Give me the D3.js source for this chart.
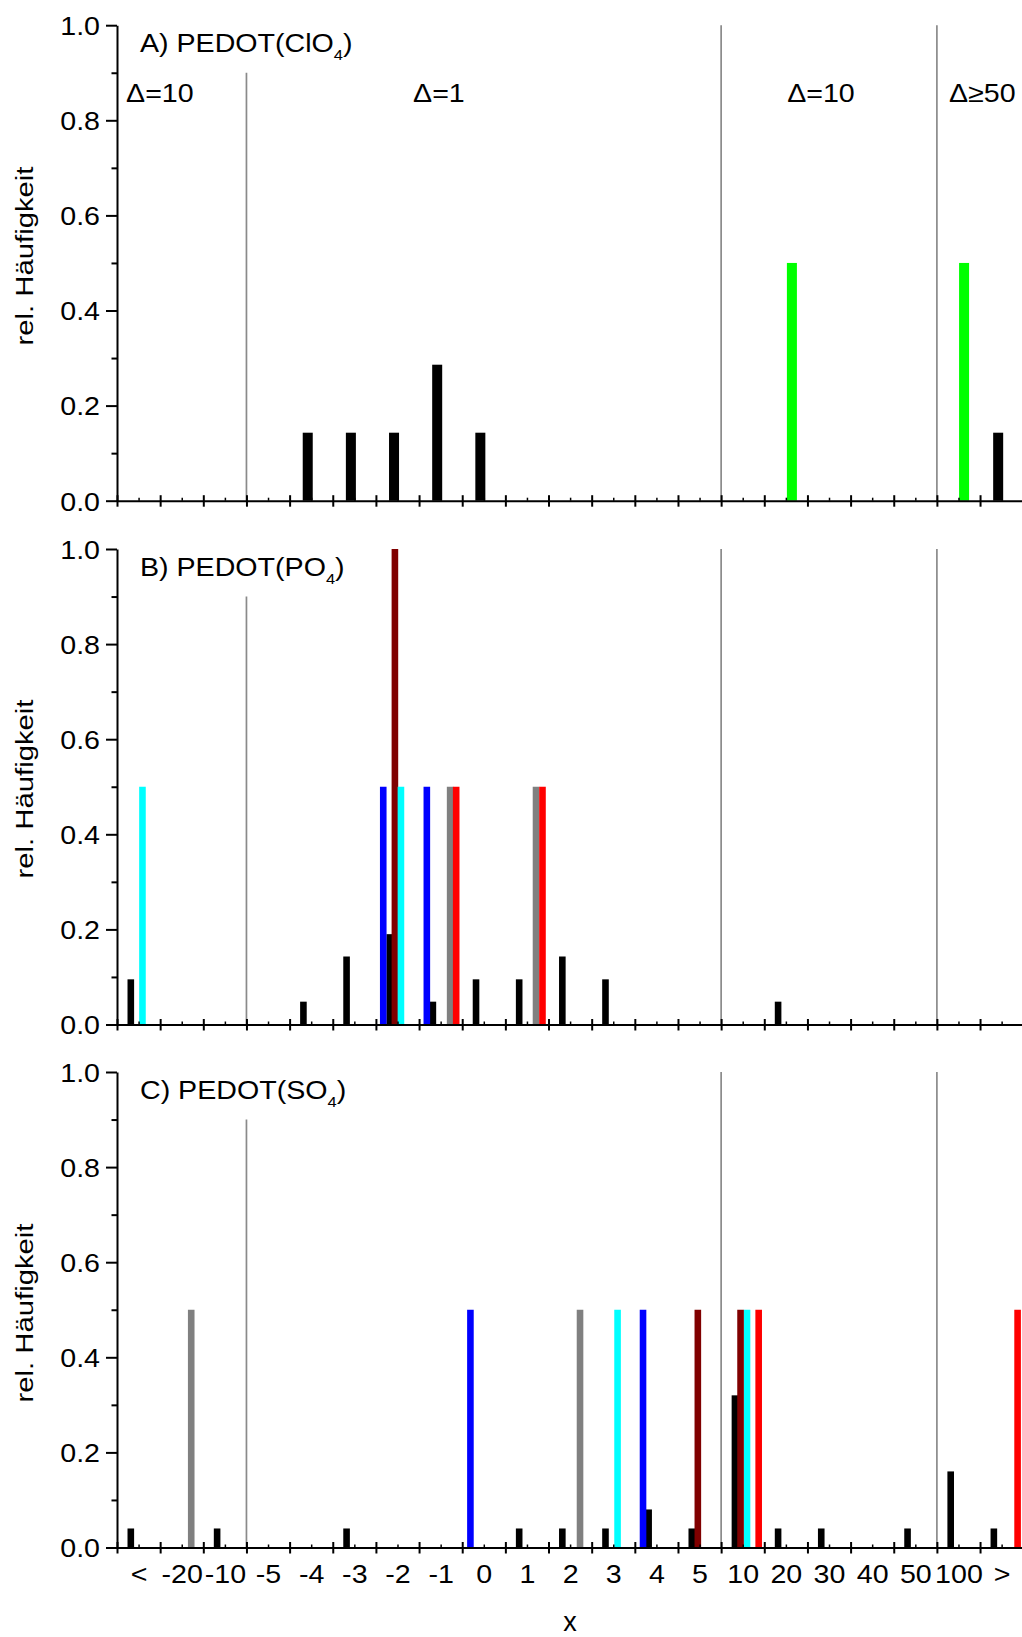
<!DOCTYPE html>
<html>
<head>
<meta charset="utf-8">
<script src="https://cdn.jsdelivr.net/npm/d3@7"></script>
<style>
body { margin: 0; background: #fff; }
svg text { font-family: "Liberation Sans", Arial, sans-serif; fill: #000; }
</style>
</head>
<body>
<div id="chart"></div>
<script>
var width = 1022, height = 1637;

// bins of the x axis
var categories = ["<","-20","-10","-5","-4","-3","-2","-1","0","1","2","3","4","5","10","20","30","40","50","100",">"];
var yTicks = [0, 0.2, 0.4, 0.6, 0.8, 1.0];
var yMinor = [0.1, 0.3, 0.5, 0.7, 0.9];

// black bars: rel. frequency per bin
var blackA = [0,0,0,0,0.143,0.143,0.143,0.286,0.143,0,0,0,0,0,0,0,0,0,0,0,0.143];
var blackB = [0.095,0,0,0,0.048,0.143,0.190,0.048,0.095,0.095,0.143,0.095,0,0,0,0.048,0,0,0,0,0];
var blackC = [0.04,0,0.04,0,0,0.04,0,0,0,0.04,0.04,0.04,0.08,0.04,0.32,0.04,0.04,0,0.04,0.16,0.04];

// coloured bars: [position on bin axis, rel. frequency]
var greenA = [[15.64,0.5],[19.63,0.5]];
var blueB = [[6.17,0.5],[7.18,0.5]];
var darkredB = [[6.44,1.0]];
var cyanB = [[0.59,0.5],[6.58,0.5]];
var grayB = [[7.72,0.5],[9.71,0.5]];
var redB = [[7.86,0.5],[9.86,0.5]];
var grayC = [[1.72,0.5],[10.73,0.5]];
var blueC = [[8.19,0.5],[12.19,0.5]];
var cyanC = [[11.6,0.5],[14.6,0.5]];
var darkredC = [[13.46,0.5],[14.45,0.5]];
var redC = [[14.87,0.5],[20.87,0.5]];

// region borders [bin boundary, top of line]
var separators = [[3,0.9],[14,1.0],[19,1.0]];
var regionLabels = ["\u0394=10","\u0394=1","\u0394=10","\u0394\u226550"];
var regionLabelPos = [0.21, 6.86, 15.53, 19.28];

var panels = [
	{title:"A) PEDOT(ClO", top:25.2, black:blackA, blackAt:0.42, barW:0.232, titleMid:256,
		bars:[[greenA,"#00ff00"]]},
	{title:"B) PEDOT(PO", top:549, black:blackB, blackAt:0.32, barW:0.153, titleMid:789,
		bars:[[blueB,"#0000ff"],[darkredB,"#800000"],[cyanB,"#00ffff"],[grayB,"#808080"],[redB,"#ff0000"]]},
	{title:"C) PEDOT(SO", top:1072, black:blackC, blackAt:0.32, barW:0.153, titleMid:1313,
		bars:[[grayC,"#808080"],[blueC,"#0000ff"],[cyanC,"#00ffff"],[darkredC,"#800000"],[redC,"#ff0000"]]}
];
var ph = 475.5;
var fs = 26, sx = 1.1;

var svg = d3.select("#chart").append("svg")
	.attr("width", width)
	.attr("height", height)
	.attr("xmlns", "http://www.w3.org/2000/svg");

var x = d3.scaleLinear().domain([0, 21]).range([117, 1023.2]);

function stretchText(g, px, py, s, size, anchor, scale){
	return g.append("text")
		.attr("transform", "translate(" + px + "," + py + ") scale(" + scale + ",1)")
		.attr("font-size", size)
		.attr("text-anchor", anchor)
		.text(s);
}

panels.forEach(function(p, pi){
	var g = svg.append("g");
	var y = d3.scaleLinear().domain([0, 1]).range([p.top + ph, p.top]);
	var bw = x(p.barW) - x(0);

	// region borders
	g.selectAll(".sep")
		.data(separators)
		.enter()
		.append("line")
		.attr("x1", function(d){ return x(d[0]); })
		.attr("x2", function(d){ return x(d[0]); })
		.attr("y1", function(d){ return y(d[1]); })
		.attr("y2", y(0))
		.style("stroke", "#8a8a8a")
		.style("stroke-width", 1.7);

	// black bars
	var blk = p.black.map(function(v, i){ return [i + p.blackAt, v]; })
		.filter(function(d){ return d[1] > 0; });
	g.selectAll(".blk")
		.data(blk)
		.enter()
		.append("rect")
		.attr("x", function(d){ return x(d[0]) - bw/2; })
		.attr("y", function(d){ return y(d[1]); })
		.attr("width", bw)
		.attr("height", function(d){ return y(0) - y(d[1]); })
		.style("fill", "#000");

	// coloured bars
	p.bars.forEach(function(s){
		g.append("g").selectAll("rect")
			.data(s[0])
			.enter()
			.append("rect")
			.attr("x", function(d){ return x(d[0]) - bw/2; })
			.attr("y", function(d){ return y(d[1]); })
			.attr("width", bw)
			.attr("height", function(d){ return y(0) - y(d[1]); })
			.style("fill", s[1]);
	});

	// y axis
	var ya = g.append("g")
		.attr("transform", "translate(" + x(0) + ",0)")
		.call(d3.axisLeft(y).tickValues(yTicks).tickSize(11).tickSizeOuter(0).tickPadding(6).tickFormat(d3.format(".1f")));
	ya.selectAll("text")
		.attr("font-size", fs)
		.attr("x", -17/sx)
		.attr("dy", "0.36em")
		.attr("transform", "scale(" + sx + ",1)");
	ya.selectAll("line, path").style("stroke-width", 2);

	var ym = g.append("g")
		.attr("transform", "translate(" + x(0) + ",0)")
		.call(d3.axisLeft(y).tickValues(yMinor).tickSize(5.5).tickFormat(""));
	ym.select(".domain").remove();
	ym.selectAll("line").style("stroke-width", 2);

	// x axis
	var xa = g.append("g")
		.attr("transform", "translate(0," + y(0) + ")")
		.call(d3.axisBottom(x).tickValues(d3.range(0, 22)).tickSize(6).tickSizeOuter(0).tickFormat(""));
	xa.selectAll(".tick line").attr("y1", -5.5);
	xa.selectAll("line, path").style("stroke-width", 2);

	var xm = g.append("g")
		.attr("transform", "translate(0," + y(0) + ")")
		.call(d3.axisBottom(x).tickValues(d3.range(0.5, 21, 1)).tickSize(-3).tickPadding(17)
			.tickFormat(pi == 2 ? function(d){ return categories[Math.floor(d)]; } : ""));
	xm.select(".domain").remove();
	xm.selectAll("line").style("stroke-width", 1.5);
	xm.selectAll("text")
		.attr("font-size", fs)
		.attr("transform", "scale(" + sx + ",1)");

	// panel title with subscript
	var t = g.append("text")
		.attr("transform", "translate(140," + (p.top + 27) + ") scale(" + sx + ",1)")
		.attr("font-size", fs);
	t.append("tspan").text(p.title);
	t.append("tspan").attr("font-size", 15).attr("dy", 8).text("4");
	t.append("tspan").attr("dy", -8).text(")");

	// y title
	g.append("text")
		.attr("transform", "translate(33," + p.titleMid + ") rotate(-90) scale(1.22,1)")
		.attr("font-size", 24)
		.attr("text-anchor", "middle")
		.text("rel. H\u00e4ufigkeit");

	if (pi == 0){
		regionLabels.forEach(function(s, i){
			stretchText(g, x(regionLabelPos[i]), p.top + 77, s, fs, "start", sx);
		});
	}
	if (pi == 2){
		stretchText(g, (x(0) + x(21))/2, 1631, "x", 27, "middle", 1);
	}
});
</script>
</body>
</html>
